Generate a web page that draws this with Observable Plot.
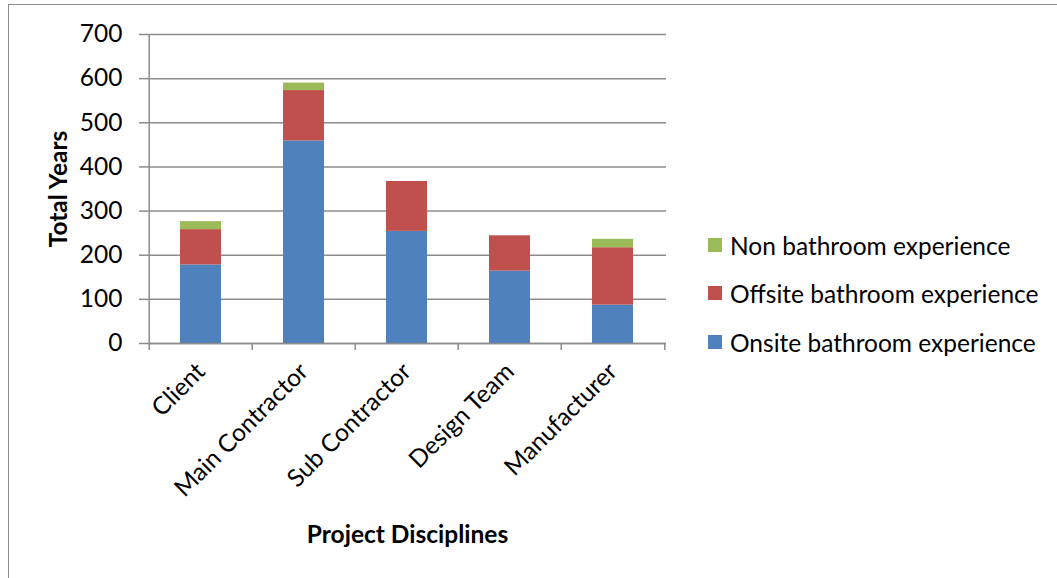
<!DOCTYPE html>
<html>
<head>
<meta charset="utf-8">
<script src="https://cdn.jsdelivr.net/npm/d3@7"></script>
<script src="https://cdn.jsdelivr.net/npm/@observablehq/plot@0.6"></script>
<style>
  body { margin: 0; background: #fff; }
  #chart { position: relative; width: 1057px; height: 578px; overflow: hidden; background: #fff; font-family: Lato, "Open Sans", sans-serif; color: #000; }
  #border { position: absolute; left: 8px; top: 4px; right: -20px; bottom: -20px; border-left: 1.5px solid #8c8c8c; border-top: 1.5px solid #8c8c8c; }
  #chart svg { position: absolute; left: 0; top: 0; }
  .legend-row { position: absolute; left: 708px; display: flex; align-items: center; font-size: 24.5px; height: 30px; white-space: nowrap; }
  .legend-row span.sw { display: inline-block; width: 14px; height: 14px; margin-right: 8px; }
</style>
</head>
<body>
<div id="chart"><div id="border"></div></div>
<script>
// Total years of experience per project discipline, split by kind of experience
const disciplines = ["Client", "Main Contractor", "Sub Contractor", "Design Team", "Manufacturer"];
const onsite = [178, 459, 254, 164, 87];
const offsite = [80, 114, 113, 80, 130];
const nonBathroom = [18, 17, 0, 0, 19];
const seriesNames = ["Onsite bathroom experience", "Offsite bathroom experience", "Non bathroom experience"];
const seriesColors = ["#4F81BD", "#C0504D", "#9BBB59"];
const yTicks = [0, 100, 200, 300, 400, 500, 600, 700];

// Long table for stacking: onsite at the bottom, non-bathroom on top
const seriesValues = [onsite, offsite, nonBathroom];
const rows = [];
seriesNames.forEach((s, k) => {
  disciplines.forEach((d, i) => rows.push({discipline: d, series: s, years: seriesValues[k][i]}));
});

const W = 1057, H = 578;
const mL = 148, mR = 391, mT = 34, mB = 235;
const step = (W - mL - mR) / disciplines.length;
const axisGray = "#8c8c8c";
const fs = 24.5;

const chart = Plot.plot({
  width: W,
  height: H,
  marginLeft: mL,
  marginRight: mR,
  marginTop: mT,
  marginBottom: mB,
  style: {fontFamily: "Lato, 'Open Sans', sans-serif", fontSize: fs + "px", color: "#000", background: "transparent", overflow: "visible"},
  x: {domain: disciplines, paddingInner: 0.6, paddingOuter: 0.3, label: null},
  y: {domain: [0, 700], label: null},
  color: {domain: seriesNames, range: seriesColors},
  marks: [
    Plot.gridY(yTicks, {stroke: axisGray, strokeOpacity: 1, strokeWidth: 1.5}),
    Plot.barY(rows, {x: "discipline", y: "years", fill: "series"}),
    Plot.ruleY([0], {stroke: axisGray, strokeWidth: 1.5}),
    // category boundary ticks below the x axis
    Plot.ruleX(disciplines, {x: d => d, y1: 0, y2: 0, insetBottom: -7, dx: -step / 2, stroke: axisGray, strokeWidth: 1.5}),
    Plot.ruleX([disciplines[disciplines.length - 1]], {x: d => d, y1: 0, y2: 0, insetBottom: -7, dx: step / 2, stroke: axisGray, strokeWidth: 1.5}),
    // y axis line
    Plot.ruleX([disciplines[0]], {x: d => d, y1: 0, y2: 700, dx: -step / 2, stroke: axisGray, strokeWidth: 1.5}),
    Plot.axisY(yTicks, {tickSize: 9, tickPadding: 17, stroke: axisGray, strokeWidth: 1.5, fill: "#000", fontSize: fs, label: null}),
    Plot.axisX({tickSize: 0, tickRotate: -45, tickPadding: 24, fill: "#000", fontSize: fs, label: null}),
    Plot.text(["Total Years"], {frameAnchor: "left", textAnchor: "middle", lineAnchor: "middle", dx: -89, rotate: -90, fontWeight: "bold", fontSize: fs, fill: "#000"}),
    Plot.text(["Project Disciplines"], {frameAnchor: "bottom", textAnchor: "middle", lineAnchor: "middle", dy: 192, fontWeight: "bold", fontSize: fs, fill: "#000"})
  ]
});
document.getElementById("chart").appendChild(chart);

// Legend, top to bottom: last stacked series first
const legendCenters = [245, 293, 342];
[2, 1, 0].forEach((k, j) => {
  const row = document.createElement("div");
  row.className = "legend-row";
  row.style.top = (legendCenters[j] - 15) + "px";
  const sw = document.createElement("span");
  sw.className = "sw";
  sw.style.background = seriesColors[k];
  row.appendChild(sw);
  row.appendChild(document.createTextNode(seriesNames[k]));
  document.getElementById("chart").appendChild(row);
});
</script>
</body>
</html>
